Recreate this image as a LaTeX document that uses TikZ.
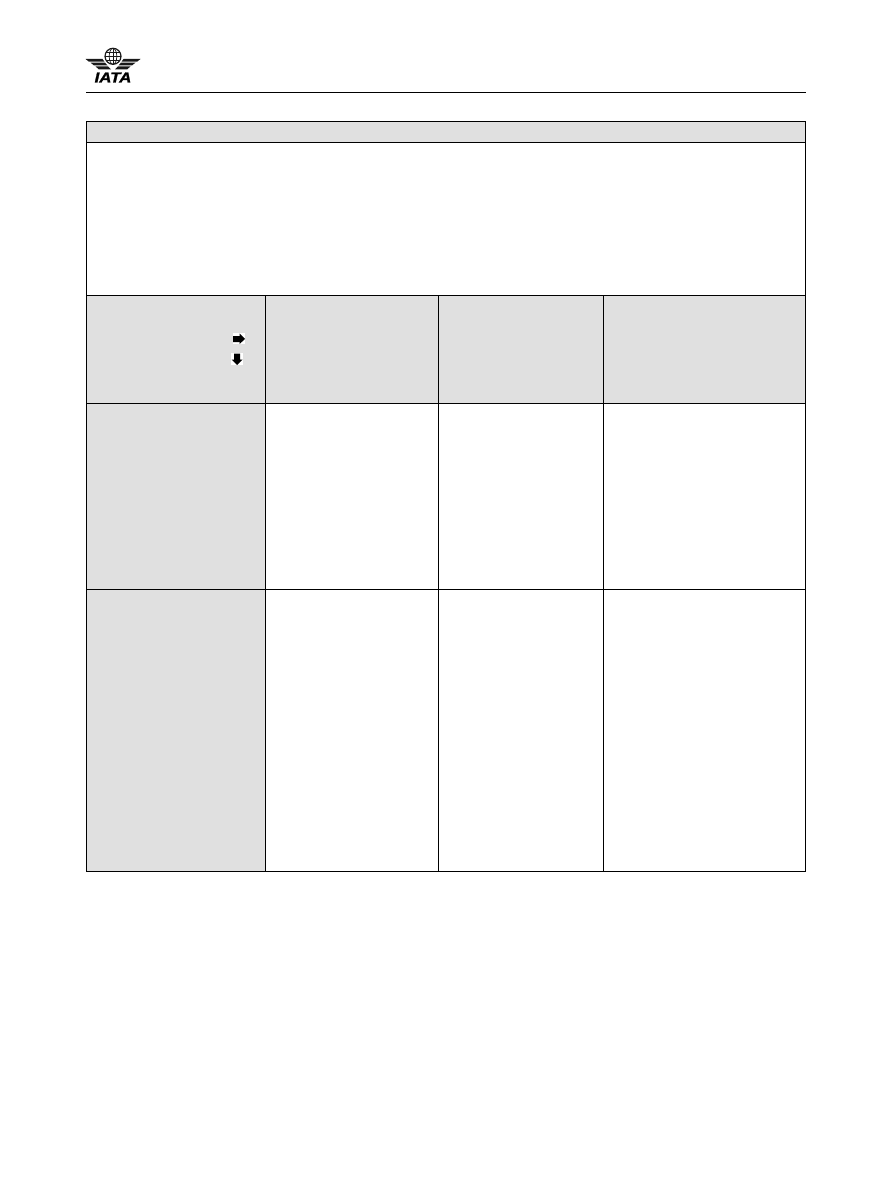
\documentclass[tikz,border=0pt]{standalone}
\usepackage{fontspec}
\setmainfont{Liberation Sans}
\newfontfamily\logofont{Liberation Sans}[BoldItalicFeatures={FakeBold=1.6,FakeStretch=1.16}]
\definecolor{cellgrey}{HTML}{E0E0E0}
\tikzset{
  gridline/.style={draw=black,line width=1pt},
  greycell/.style={fill=cellgrey},
  arrowbg/.style={fill=white},
  wing/.style={fill=black!90},
  globe/.style={draw=black!90,line width=1.2pt}
}
\begin{document}
\begin{tikzpicture}[x=1pt,y=-1pt]
\useasboundingbox (0,0) rectangle (891,1188);
\fill[white] (0,0) rectangle (891,1188);
% grey cells
\fill[greycell] (86.5,121.5) rectangle (805.5,142.5);
\fill[greycell] (86.5,295) rectangle (805.5,403.5);
\fill[greycell] (86.5,403.5) rectangle (265.5,871.5);
% header rule
\draw[gridline] (86,92.5) -- (806,92.5);
% table
\draw[gridline] (86.5,121.5) rectangle (805.5,871.5);
\draw[gridline] (86.5,142.5) -- (805.5,142.5);
\draw[gridline] (86.5,295) -- (805.5,295);
\draw[gridline] (86.5,403.5) -- (805.5,403.5);
\draw[gridline] (86.5,589) -- (805.5,589);
\draw[gridline] (265.5,295) -- (265.5,871.5);
\draw[gridline] (438.5,295) -- (438.5,871.5);
\draw[gridline] (603.5,295) -- (603.5,871.5);
% arrows
\fill[arrowbg] (233,333) rectangle (245,344);
\fill[black] (233,336) -- (239.5,336) -- (239.5,333.5) -- (245,339) -- (239.5,344) -- (239.5,342) -- (233,342) -- cycle;
\fill[arrowbg] (231,353) rectangle (243,365);
\fill[black] (234,353.5) -- (240,353.5) -- (240,359.5) -- (242.5,359.5) -- (237,365) -- (231.5,359.5) -- (234,359.5) -- cycle;
% logo: globe
\draw[globe] (113,56.3) circle (8);
\draw[globe,line width=0.7pt] (113,56.3) ellipse (3.8 and 8);
\draw[globe,line width=0.7pt] (113,48.3) -- (113,64.3);
\draw[globe,line width=0.7pt] (105,56.3) -- (121,56.3);
\draw[globe,line width=0.7pt] (106,52) -- (120,52);
\draw[globe,line width=0.7pt] (106,60.6) -- (120,60.6);
% logo: wings
\fill[wing] (85.5,59) -- (102.5,59) -- (104.5,61.7) -- (89,61.7) -- cycle;
\fill[wing] (90.5,62.7) -- (105,62.7) -- (107.5,65.4) -- (94,65.4) -- cycle;
\fill[wing] (95.5,66.4) -- (108,66.4) -- (111,69.5) -- (99,69.5) -- cycle;
\fill[wing] (140.5,59) -- (123.5,59) -- (121.5,61.7) -- (137,61.7) -- cycle;
\fill[wing] (135.5,62.7) -- (121,62.7) -- (118.5,65.4) -- (132,65.4) -- cycle;
\fill[wing] (130.5,66.4) -- (118,66.4) -- (115,69.5) -- (127,69.5) -- cycle;
% logo: text
\node[inner sep=0pt,anchor=center,font=\logofont\fontsize{14.5}{15}\selectfont\bfseries\itshape] (iata) at (113,77.5) {IATA};
\end{tikzpicture}
\end{document}
